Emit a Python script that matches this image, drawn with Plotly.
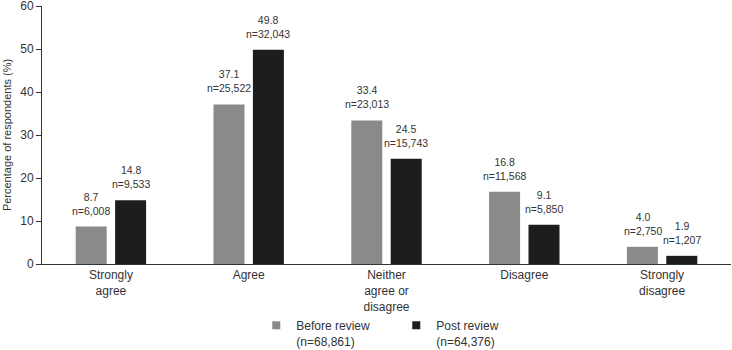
import plotly.graph_objects as go

categories = ["Strongly<br>agree", "Agree", "Neither<br>agree or<br>disagree", "Disagree", "Strongly<br>disagree"]
before_pct = [8.7, 37.1, 33.4, 16.8, 4.0]
before_n = ["6,008", "25,522", "23,013", "11,568", "2,750"]
post_pct = [14.8, 49.8, 24.5, 9.1, 1.9]
post_n = ["9,533", "32,043", "15,743", "5,850", "1,207"]
series_names = ["Before review<br>(n=68,861)", "Post review<br>(n=64,376)"]
y_ticks = [0, 10, 20, 30, 40, 50, 60]

GRAY = "#8a8a8a"
BLACK = "#1e1c1d"
TEXT = "#333333"
FONT = "Liberation Sans, Arial, sans-serif"

fig = go.Figure()
fig.add_trace(go.Bar(x=categories, y=before_pct, name=series_names[0], showlegend=False,
                     marker=dict(color=GRAY, line=dict(width=0))))
fig.add_trace(go.Bar(x=categories, y=post_pct, name=series_names[1], showlegend=False,
                     marker=dict(color=BLACK, line=dict(width=0))))
# legend entries (small square keys)
for name, col in zip(series_names, [GRAY, BLACK]):
    fig.add_trace(go.Scatter(x=[None], y=[None], mode="markers", name=name,
                             marker=dict(symbol="square", size=8, color=col, line=dict(width=0))))

for vals, ns, shift in [(before_pct, before_n, -19.6), (post_pct, post_n, 19.6)]:
    for c, v, n in zip(categories, vals, ns):
        fig.add_annotation(x=c, y=v, xref="x", yref="y",
                           text=f"{v:.1f}<br>n={n}", showarrow=False,
                           xshift=shift, yshift=8, yanchor="bottom",
                           font=dict(size=10.5, color=TEXT, family=FONT))

fig.update_layout(
    width=732, height=350,
    margin=dict(l=42, r=1, t=6, b=86, autoexpand=False),
    plot_bgcolor="white", paper_bgcolor="white",
    barmode="group", bargap=0.428, bargroupgap=0.213,
    font=dict(family=FONT, size=12, color=TEXT),
    legend=dict(orientation="h", x=0.311, xanchor="left", y=-0.182, yanchor="top",
                valign="top", font=dict(size=12, color=TEXT),
                entrywidth=95, entrywidthmode="pixels", itemwidth=30,
                bgcolor="rgba(0,0,0,0)"),
)
fig.update_xaxes(showline=True, linecolor="#333333", linewidth=1, ticks="",
                 showgrid=False, automargin=False, tickfont=dict(size=12, color=TEXT))
fig.update_yaxes(range=[0, 60], tickvals=y_ticks, showline=True, linecolor="#333333",
                 linewidth=1, ticks="outside", ticklen=5, tickcolor="#333333",
                 showgrid=False, zeroline=False, automargin=False, ticklabeloverflow="allow",
                 title=dict(text="Percentage of respondents (%)", font=dict(size=11, color=TEXT), standoff=6),
                 tickfont=dict(size=12, color=TEXT))

fig.write_html("out.html")
